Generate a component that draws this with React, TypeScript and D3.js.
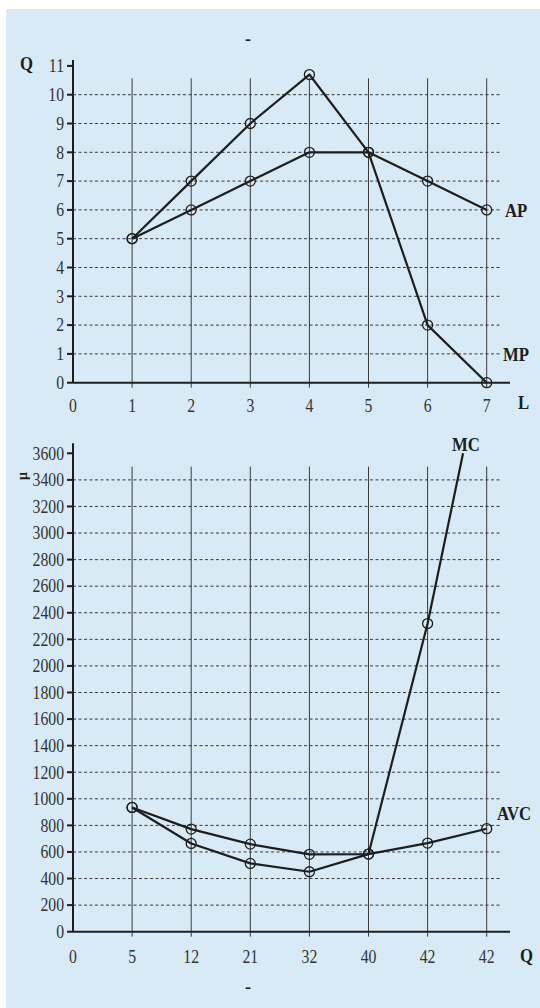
import React from 'react';
import * as d3 from 'd3';

// top chart: product curves
const laborUnits = [1, 2, 3, 4, 5, 6, 7];
const apValues = [5, 6, 7, 8, 8, 7, 6];
const mpValues = [5, 7, 9, 10.7, 8, 2, 0];
const topXTicks = [0, 1, 2, 3, 4, 5, 6, 7];
const topYTicks = [0, 1, 2, 3, 4, 5, 6, 7, 8, 9, 10, 11];

// bottom chart: cost curves
const qLabels = ['0', '5', '12', '21', '32', '40', '42', '42'];
const costIdx = [1, 2, 3, 4, 5, 6, 7];
const avcValues = [935, 772, 659, 582, 584, 667, 775];
const mcValues = [935, 664, 514, 451, 584, 2319];
const mcTail = { idx: 6.6, value: 3600 };
const bottomYTicks = d3.range(0, 3601, 200);

const INK = '#1e1e1e';
const GRID = '#3a3a3a';
const FONT = '"Liberation Serif", "Times New Roman", serif';

const NumLabel: React.FC<{ x: number; y: number; anchor: string; text: string }> = ({ x, y, anchor, text }) => (
  <text
    transform={`translate(${x},${y}) scale(0.85,1)`}
    textAnchor={anchor}
    fontFamily={FONT}
    fontSize={18.5}
    fill="#333"
  >
    {text}
  </text>
);

export default function App() {
  const xPos = d3.scaleLinear().domain([0, 7]).range([73, 486.7]);
  const yTop = d3.scaleLinear().domain([0, 11]).range([382.7, 65.9]);
  const yBot = d3.scaleLinear().domain([0, 3600]).range([931.7, 453.3]);

  const lineTop = d3.line<[number, number]>().x(d => xPos(d[0])).y(d => yTop(d[1]));
  const lineBot = d3.line<[number, number]>().x(d => xPos(d[0])).y(d => yBot(d[1]));

  const apPts: [number, number][] = laborUnits.map((l, i) => [l, apValues[i]]);
  const mpPts: [number, number][] = laborUnits.map((l, i) => [l, mpValues[i]]);
  const avcPts: [number, number][] = costIdx.map((c, i) => [c, avcValues[i]]);
  const mcPts: [number, number][] = mcValues.map((v, i) => [costIdx[i], v] as [number, number]);
  const mcLine: [number, number][] = [...mcPts, [mcTail.idx, mcTail.value]];

  const axisRight = 510;
  const gridRight = 501.7;

  const renderFrame = (
    y: d3.ScaleLinear<number, number>,
    yTicks: number[],
    gridTop: number,
    axisTop: number,
    xLabels: string[],
    xLabelY: number
  ) => {
    const y0 = y(0);
    return (
      <g>
        {yTicks.filter(t => t !== 0 && t !== yTicks[yTicks.length - 1]).map(t => (
          <line key={'h' + t} x1={73} x2={gridRight} y1={y(t)} y2={y(t)}
            stroke={GRID} strokeWidth={1} strokeDasharray="3,2.5" />
        ))}
        {[1, 2, 3, 4, 5, 6, 7].map(i => (
          <line key={'v' + i} x1={xPos(i)} x2={xPos(i)} y1={gridTop} y2={y0 + 5}
            stroke={GRID} strokeWidth={1} />
        ))}
        <line x1={73} x2={73} y1={axisTop} y2={y0} stroke={INK} strokeWidth={2} />
        <line x1={73} x2={axisRight} y1={y0} y2={y0} stroke={INK} strokeWidth={2} />
        {yTicks.map(t => (
          <g key={'yt' + t}>
            <line x1={67} x2={73} y1={y(t)} y2={y(t)} stroke={INK} strokeWidth={2} />
            <NumLabel x={64} y={y(t) + 6.3} anchor="end" text={String(t)} />
          </g>
        ))}
        {xLabels.map((lab, i) => (
          <NumLabel key={'xt' + i} x={xPos(i)} y={xLabelY} anchor="middle" text={lab} />
        ))}
      </g>
    );
  };

  const markers = (pts: [number, number][], y: d3.ScaleLinear<number, number>) =>
    pts.map((p, i) => (
      <circle key={i} cx={xPos(p[0])} cy={y(p[1])} r={5} fill="none" stroke={INK} strokeWidth={1.3} />
    ));

  const boldText = (x: number, y: number, t: string, anchor = 'start') => (
    <text transform={`translate(${x},${y}) scale(0.88,1)`} fontFamily={FONT} fontWeight="bold"
      fontSize={19} fill={INK} textAnchor={anchor}>{t}</text>
  );

  return (
    <svg width={540} height={1008} style={{ position: 'absolute', left: 0, top: 0 }}>
      <rect x={0} y={0} width={540} height={1008} fill="#ffffff" />
      <rect x={6} y={9} width={534} height={999} fill="#d7eaf5" />

      {/* top chart */}
      <text x={248} y={45} fontFamily={FONT} fontWeight="bold" fontSize={18} fill={INK} textAnchor="middle">-</text>
      {renderFrame(yTop, topYTicks, 78.3, 60, topXTicks.map(String), 412)}
      <path d={lineTop(mpPts) || ''} fill="none" stroke={INK} strokeWidth={2.2} strokeLinejoin="round" />
      <path d={lineTop(apPts) || ''} fill="none" stroke={INK} strokeWidth={2.2} strokeLinejoin="round" />
      {markers(mpPts, yTop)}
      {markers(apPts, yTop)}
      {boldText(20, 70, 'Q')}
      {boldText(518, 409, 'L')}
      {boldText(505, 217, 'AP')}
      {boldText(503, 361, 'MP')}

      {/* bottom chart */}
      {renderFrame(yBot, bottomYTicks, 466.7, 443.3, qLabels, 963)}
      <path d={lineBot(mcLine) || ''} fill="none" stroke={INK} strokeWidth={2.2} strokeLinejoin="round" />
      <path d={lineBot(avcPts) || ''} fill="none" stroke={INK} strokeWidth={2.2} strokeLinejoin="round" />
      {markers(mcPts, yBot)}
      {markers(avcPts, yBot)}
      <text transform="translate(27,476) rotate(-90)" fontFamily={FONT} fontWeight="bold" fontSize={14} fill={INK} textAnchor="middle">μ</text>
      {boldText(466, 451, 'MC', 'middle')}
      {boldText(497, 820, 'AVC')}
      {boldText(520, 962, 'Q')}
      <text x={248} y={993} fontFamily={FONT} fontWeight="bold" fontSize={18} fill={INK} textAnchor="middle">-</text>
    </svg>
  );
}
